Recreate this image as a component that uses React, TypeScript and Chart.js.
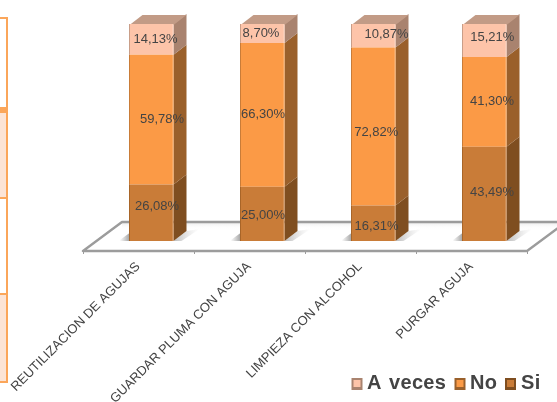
import React, { useEffect, useRef } from "react";
import { Chart, registerables } from "chart.js";

Chart.register(...registerables);

const categories = ["REUTILIZACION DE AGUJAS", "GUARDAR PLUMA CON AGUJA", "LIMPIEZA CON ALCOHOL", "PURGAR AGUJA"];
const si = [26.08, 25.0, 16.31, 43.49];
const no = [59.78, 66.3, 72.82, 41.3];
const aVeces = [14.13, 8.7, 10.87, 15.21];

const FONT = '"Liberation Sans", Arial, sans-serif';
const TEXT = "#444444";
const DX = 13;
const DY = 10;

// Hand-placed label offsets (per series, per category) seen in the picture.
const nudges = [
  [[5.5, -6.7], [0.5, 2], [3, 3.5], [7.5, -1]],
  [[10.5, 0], [0.5, 0], [2.7, 6], [7.5, 0]],
  [[4, 0], [-1.5, 0], [13, -1], [7.8, -3]],
];

const palette = [
  { front: "#C97C38", side: "#7F4E20", edge: "#A86528" },
  { front: "#FB9A46", side: "#9A602B", edge: "#C97C38" },
  { front: "#FDC4A9", side: "#A9836F", edge: "#C99E88", top: "#C29B86" },
];

const legendItems = [
  { series: 2, swatchX: 351.5, textX: 367 },
  { series: 1, swatchX: 454.5, textX: 470 },
  { series: 0, swatchX: 505, textX: 521 },
];

function poly(ctx: CanvasRenderingContext2D, pts: number[][], fill: string | CanvasGradient) {
  ctx.beginPath();
  pts.forEach((p, i) => (i ? ctx.lineTo(p[0], p[1]) : ctx.moveTo(p[0], p[1])));
  ctx.closePath();
  ctx.fillStyle = fill;
  ctx.fill();
}

const scene3d = {
  id: "scene3d",
  beforeDatasetsDraw(chart: any) {
    const ctx: CanvasRenderingContext2D = chart.ctx;
    const { left, right, bottom } = chart.chartArea;
    const fx0 = left - DX;
    const fx1 = right - DX;
    const fy = bottom + 10;
    const bx0 = fx0 + 39;
    const bx1 = fx1 + 39;
    const by = fy - 29;
    ctx.save();
    const g = ctx.createLinearGradient(0, by - 1, 0, by + 7);
    g.addColorStop(0, "rgba(170,170,170,0.35)");
    g.addColorStop(1, "rgba(255,255,255,0)");
    ctx.fillStyle = g;
    ctx.fillRect(bx0, by, bx1 - bx0, 7);
    ctx.strokeStyle = "#9C9C9C";
    ctx.lineWidth = 2.4;
    ctx.lineJoin = "round";
    ctx.beginPath();
    ctx.moveTo(fx0, fy);
    ctx.lineTo(fx1, fy);
    ctx.lineTo(bx1, by);
    ctx.lineTo(bx0, by);
    ctx.closePath();
    ctx.stroke();
    const cat = (right - left) / categories.length;
    ctx.lineWidth = 1;
    for (let i = 0; i <= categories.length; i++) {
      const x = Math.round(fx0 + cat * i) + 0.5;
      ctx.beginPath();
      ctx.moveTo(x, fy);
      ctx.lineTo(x, fy + 3);
      ctx.stroke();
    }
    chart.getDatasetMeta(0).data.forEach((bar: any) => {
      const l = bar.x - bar.width / 2;
      const r = bar.x + bar.width / 2;
      const b = bar.base;
      const gl = ctx.createLinearGradient(l - 10, 0, l, 0);
      gl.addColorStop(0, "rgba(150,150,150,0)");
      gl.addColorStop(1, "rgba(140,140,140,0.8)");
      poly(ctx, [[l - 11, b], [l, b], [l, b - 8]], gl);
      const gr = ctx.createLinearGradient(r, 0, r + 26, 0);
      gr.addColorStop(0, "rgba(150,150,150,0.65)");
      gr.addColorStop(1, "rgba(200,200,200,0)");
      poly(ctx, [[r, b], [r + DX, b - DY], [r + 26, b - 12], [r + 8, b]], gr);
    });
    chart.data.datasets.forEach((_: any, di: number) => {
      chart.getDatasetMeta(di).data.forEach((bar: any) => {
        const r = bar.x + bar.width / 2;
        const l = bar.x - bar.width / 2;
        poly(ctx, [[r, bar.y], [r + DX, bar.y - DY], [r + DX, bar.base - DY], [r, bar.base]], palette[di].side);
        if (di === chart.data.datasets.length - 1) {
          poly(ctx, [[l, bar.y + 1], [l + DX, bar.y - DY + 1], [r + DX, bar.y - DY + 1], [r, bar.y + 1]], palette[di].top as string);
        }
      });
    });
    ctx.restore();
  },
  afterDatasetsDraw(chart: any) {
    const ctx: any = chart.ctx;
    ctx.save();
    chart.data.datasets.forEach((ds: any, di: number) => {
      chart.getDatasetMeta(di).data.forEach((bar: any) => {
        const l = bar.x - bar.width / 2;
        const r = bar.x + bar.width / 2;
        ctx.fillStyle = palette[di].edge;
        ctx.fillRect(l - 0.5, bar.y, 1, bar.base - bar.y);
        ctx.fillStyle = "rgba(255,255,255,0.16)";
        ctx.fillRect(r - 1.5, bar.y, 1.5, bar.base - bar.y);
      });
    });
    ctx.font = `13px ${FONT}`;
    ctx.fillStyle = TEXT;
    ctx.textAlign = "center";
    ctx.textBaseline = "middle";
    chart.data.datasets.forEach((ds: any, di: number) => {
      chart.getDatasetMeta(di).data.forEach((bar: any, i: number) => {
        const text = ds.data[i].toFixed(2).replace(".", ",") + "%";
        const [nx, ny] = nudges[di][i];
        ctx.fillText(text, bar.x + nx, (bar.y + bar.base) / 2 + ny);
      });
    });
    ctx.font = `bold 20px ${FONT}`;
    ctx.wordSpacing = "1.5px";
    ctx.letterSpacing = "0.3px";
    ctx.textAlign = "left";
    ctx.textBaseline = "middle";
    legendItems.forEach((it) => {
      const ds = chart.data.datasets[it.series];
      const p = palette[it.series];
      const y = 378;
      ctx.fillStyle = p.side;
      ctx.fillRect(it.swatchX, y, 11, 12);
      ctx.fillStyle = p.front;
      ctx.fillRect(it.swatchX + 2, y + 2, 7, 7);
      ctx.fillStyle = TEXT;
      ctx.fillText(ds.label, it.textX, 383.5);
    });
    ctx.restore();
  },
};

export default function App() {
  const ref = useRef<HTMLCanvasElement>(null);
  useEffect(() => {
    const chart = new Chart(ref.current as HTMLCanvasElement, {
      type: "bar",
      data: {
        labels: categories,
        datasets: [
          { label: "Si", data: si, backgroundColor: palette[0].front },
          { label: "No", data: no, backgroundColor: palette[1].front },
          { label: "A veces", data: aVeces, backgroundColor: palette[2].front },
        ],
      },
      plugins: [scene3d],
      options: {
        responsive: false,
        animation: false,
        layout: { padding: { left: 96, right: 17, top: 24, bottom: 0 } },
        datasets: { bar: { categoryPercentage: 1, barPercentage: 44 / 111 } },
        plugins: { legend: { display: false }, tooltip: { enabled: false } },
        scales: {
          x: {
            stacked: true,
            grid: { display: false },
            border: { display: false },
            afterFit(scale: any) {
              scale.height = 161;
            },
            ticks: {
              autoSkip: false,
              minRotation: 45,
              maxRotation: 45,
              padding: 10,
              labelOffset: -13.5,
              color: TEXT,
              font: { family: FONT, size: 13 },
            },
          },
          y: { stacked: true, display: false, min: 0, max: 100 },
        },
      },
    } as any);
    return () => chart.destroy();
  }, []);

  const band = (top: number, height: number, background: string, left = 0, width = 6) => (
    <div style={{ position: "absolute", left, top, width, height, background }} />
  );
  return (
    <div style={{ position: "absolute", left: 0, top: 0, width: 557, height: 402, overflow: "hidden", background: "#fff" }}>
      <canvas ref={ref} width={557} height={402} style={{ position: "absolute", left: 0, top: 0, display: "block" }} />
      {band(17, 2, "#FBA65A", 0, 6)}
      {band(107, 6, "#FBA65A", 0, 6)}
      {band(113, 84, "#FCE4D6")}
      {band(197, 2, "#FBA65A", 0, 6)}
      {band(293, 2, "#FBA65A", 0, 6)}
      {band(295, 86, "#FCE4D6")}
      {band(381, 2, "#FBA65A", 0, 6)}
      {band(17, 366, "#FBA65A", 6, 2)}
    </div>
  );
}
